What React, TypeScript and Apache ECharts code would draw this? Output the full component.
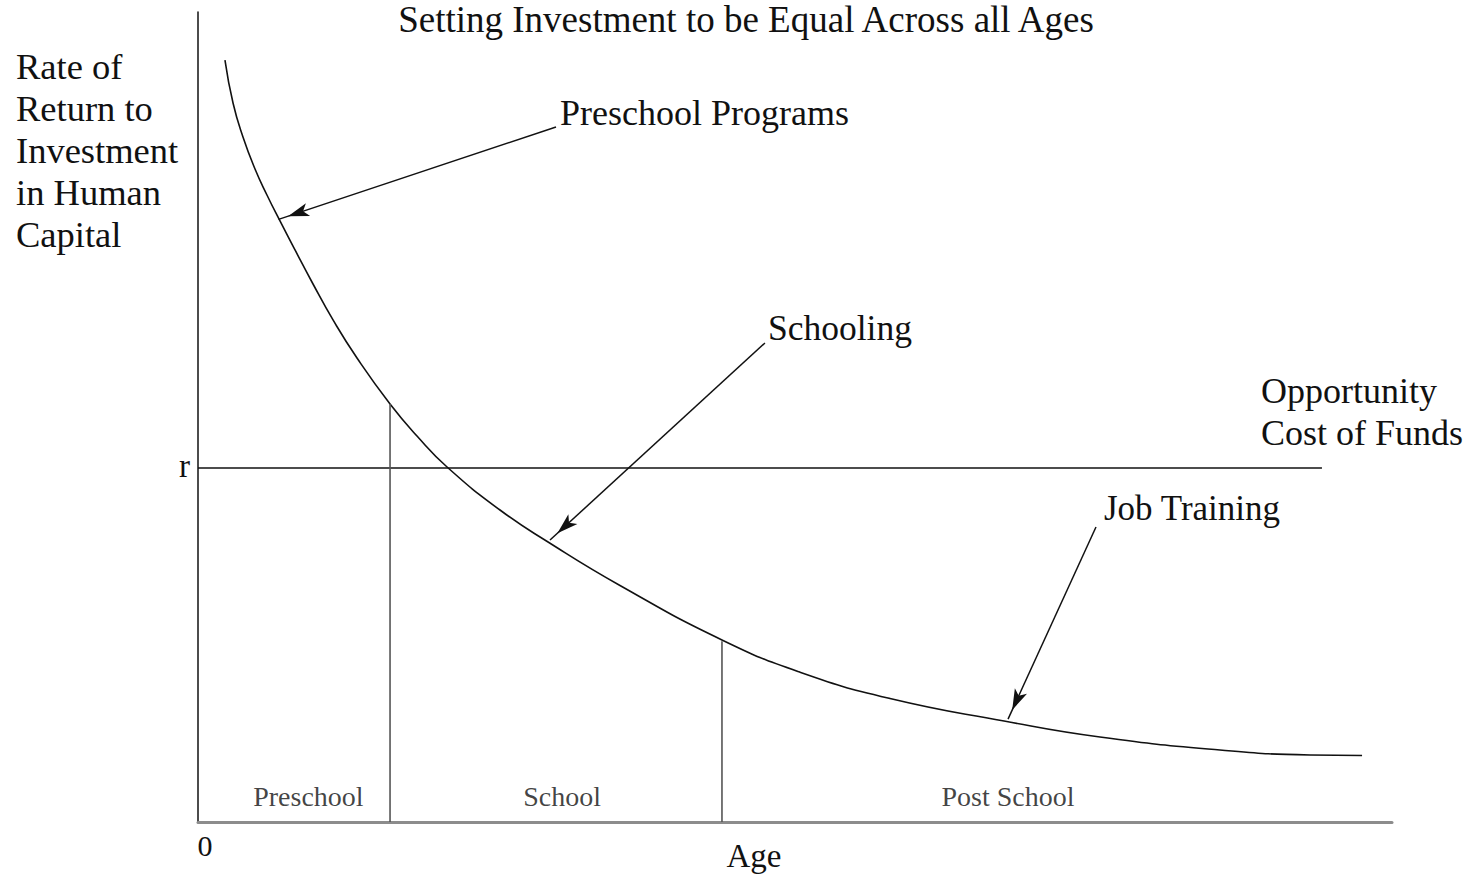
import React, { useEffect, useRef } from "react";
import * as echarts from "echarts";

// ---- Data (abstract units: age 0..120, return 0..100) ----
const curveAge = [2.71, 3.52, 4.52, 5.73, 6.93, 8.24, 9.75, 11.56, 13.57, 15.98, 19.3, 22.01, 25.03, 30.35, 35.18, 42.41, 52.66, 60.5, 69.55, 81.01, 90.65, 102.71, 111.76, 116.99];
const curveReturn = [94.07, 88.77, 84.57, 80.62, 77.41, 74.2, 70.62, 66.42, 61.98, 57.28, 51.6, 47.65, 43.83, 38.52, 34.57, 29.2, 22.47, 18.5, 15.25, 12.47, 10.49, 8.89, 8.27, 8.21];

const opportunityCost = 43.7; // r
const rLineEnd = 112.96;

const dividerAges = [19.3, 52.66];
const dividerTops = [51.6, 22.3];

const stageNames = ["Preschool", "School", "Post School"];
const stageCenters = [11.1, 36.6, 81.4];
const stageLevel = 3.1;

const arrowNames = ["Preschool Programs", "Schooling", "Job Training"];
const arrowFrom = [
  [35.98, 85.8],
  [56.98, 59.14],
  [90.25, 36.42],
];
const arrowTo = [
  [8.1, 74.4],
  [35.38, 34.81],
  [81.41, 12.7],
];

const yLabelLines = ["Rate of", "Return to", "Investment", "in Human", "Capital"];
const oppLabelLines = ["Opportunity", "Cost of Funds"];
const titleText = "Setting Investment to be Equal Across all Ages";

const FONT = "'Liberation Serif', 'Times New Roman', serif";

export default function App() {
  const ref = useRef<HTMLDivElement>(null);

  useEffect(() => {
    document.body.style.margin = "0";
    const chart = echarts.init(ref.current!, undefined, { renderer: "svg" });

    const txt = (text: string, x: number, y: number, size: number, align = "left") => ({
      type: "text",
      x,
      y,
      silent: true,
      style: {
        text,
        fill: "#111",
        font: `${size}px ${FONT}`,
        textAlign: align,
        textVerticalAlign: "middle",
        verticalAlign: "middle",
      },
    });

    const graphics: any[] = [];
    graphics.push(txt(titleText, 746, 19, 37, "center"));
    yLabelLines.forEach((l, i) => graphics.push(txt(l, 16, 66 + i * 42, 36.5)));
    oppLabelLines.forEach((l, i) => graphics.push(txt(l, 1261, 391 + i * 42, 36)));
    graphics.push(txt(arrowNames[0], 560, 113, 36));
    graphics.push(txt(arrowNames[1], 768, 328, 35.5));
    graphics.push(txt(arrowNames[2], 1104, 508, 35));
    graphics.push(txt("r", 190, 466, 33, "right"));
    graphics.push(txt("0", 205, 845, 30, "center"));
    graphics.push(txt("Age", 754, 856, 33, "center"));

    const series: any[] = [
      {
        type: "line",
        data: curveAge.map((a, i) => [a, curveReturn[i]]),
        smooth: 0.5,
        showSymbol: false,
        silent: true,
        lineStyle: { color: "#111", width: 1.6 },
        markLine: {
          silent: true,
          symbol: ["none", "arrow"],
          symbolSize: [10, 21],
          symbolOffset: [[0, 0], [0, 10]],
          label: { show: false },
          lineStyle: { color: "#111", width: 1.5, type: "solid" },
          itemStyle: { color: "#111" },
          data: arrowFrom.map((f, i) => [{ coord: f }, { coord: arrowTo[i] }]),
        },
      },
      {
        type: "line",
        data: [
          [0, opportunityCost],
          [rLineEnd, opportunityCost],
        ],
        showSymbol: false,
        silent: true,
        lineStyle: { color: "#111", width: 1.5 },
      },
      ...dividerAges.map((a, i) => ({
        type: "line",
        data: [
          [a, 0],
          [a, dividerTops[i]],
        ],
        showSymbol: false,
        silent: true,
        lineStyle: { color: "#555", width: 1.6 },
      })),
      {
        type: "scatter",
        data: stageCenters.map((c) => [c, stageLevel]),
        symbolSize: 0,
        silent: true,
        label: {
          show: true,
          position: "inside",
          formatter: (p: any) => stageNames[p.dataIndex],
          color: "#111",
          fontFamily: FONT,
          fontSize: 28,
        },
      },
    ];

    chart.setOption({
      animation: false,
      backgroundColor: "#fff",
      grid: { left: 198, right: 75, top: 12, bottom: 52 },
      xAxis: {
        type: "value",
        min: 0,
        max: 120,
        axisLine: { show: true, onZero: false, lineStyle: { color: "#8c8c8c", width: 3 } },
        axisTick: { show: false },
        axisLabel: { show: false },
        splitLine: { show: false },
      },
      yAxis: {
        type: "value",
        min: 0,
        max: 100,
        axisLine: { show: true, onZero: false, lineStyle: { color: "#111", width: 1.5 } },
        axisTick: { show: false },
        axisLabel: { show: false },
        splitLine: { show: false },
      },
      series,
      graphic: graphics,
    });

    return () => chart.dispose();
  }, []);

  return <div ref={ref} style={{ position: "fixed", left: 0, top: 0, width: 1467, height: 874 }} />;
}
